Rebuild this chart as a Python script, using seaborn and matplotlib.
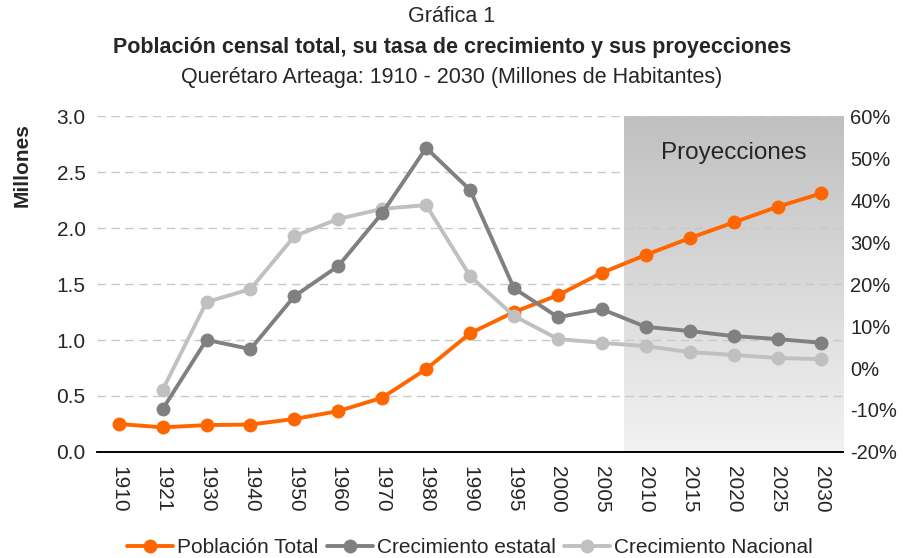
import numpy as np
import pandas as pd
import seaborn as sns
import matplotlib.pyplot as plt
from matplotlib.colors import LinearSegmentedColormap
from matplotlib.ticker import FuncFormatter

# datos
anios = ["1910", "1921", "1930", "1940", "1950", "1960", "1970", "1980", "1990",
         "1995", "2000", "2005", "2010", "2015", "2020", "2025", "2030"]
poblacion = [0.25, 0.22, 0.24, 0.245, 0.295, 0.365, 0.485, 0.74, 1.06,
             1.25, 1.40, 1.60, 1.76, 1.91, 2.05, 2.19, 2.31]
crec_estatal = [np.nan, -9.8, 6.7, 4.5, 17.1, 24.3, 36.9, 52.4, 42.4,
                19.0, 12.1, 14.0, 9.8, 8.8, 7.6, 6.9, 6.0]
crec_nacional = [np.nan, -5.2, 15.7, 18.8, 31.4, 35.5, 37.9, 38.8, 21.9,
                 12.4, 6.9, 6.0, 5.2, 3.8, 3.1, 2.4, 2.1]
inicio_proy = "2010"

sns.set_style("white")
plt.rcParams['font.family'] = ['Liberation Sans', 'DejaVu Sans']

df = pd.DataFrame({"x": np.arange(len(anios)), "pob": poblacion,
                   "est": crec_estatal, "nac": crec_nacional})

fig, ax = plt.subplots(figsize=(9.04, 5.58), dpi=100)
fig.subplots_adjust(left=0.107, right=0.933, top=0.792, bottom=0.19)
ax2 = ax.twinx()

n = len(anios)
x0 = anios.index(inicio_proy) - 0.5
# fondo degradado de proyecciones
grad = np.linspace(0, 1, 256).reshape(-1, 1)
ax.imshow(grad, extent=[x0, n - 0.5, 0, 3.0], origin="upper", aspect="auto",
          cmap=LinearSegmentedColormap.from_list("g", ["#c0c0c0", "#f2f2f2"]), zorder=0)
ax.text((x0 + n - 0.5) / 2, 2.67, "Proyecciones", ha="center", va="center", fontsize=17.5, zorder=1)

ax.set_ylim(0, 3.0)
ax2.set_ylim(-20, 60)
ax.set_xlim(-0.5, n - 0.5)
ax.set_yticks(np.arange(0, 3.01, 0.5))
ax2.set_yticks(np.arange(-20, 61, 10))
ax.yaxis.set_major_formatter(FuncFormatter(lambda v, p: f"{v:.1f}"))
ax2.yaxis.set_major_formatter(FuncFormatter(lambda v, p: f"{v:.0f}%"))

for y in np.arange(0.5, 3.01, 0.5):
    ax.axhline(y, color="#c8c8c8", lw=1, ls=(0, (6, 4)), zorder=0.5)

sns.lineplot(data=df, x="x", y="pob", ax=ax, color="#ff6600", lw=2.8, marker="o",
             markersize=10, markeredgewidth=0, label="Población Total", legend=False, zorder=3)
sns.lineplot(data=df.dropna(), x="x", y="est", ax=ax2, color="#808080", lw=2.8, marker="o",
             markersize=10, markeredgewidth=0, label="Crecimiento estatal", legend=False, zorder=3)
sns.lineplot(data=df.dropna(), x="x", y="nac", ax=ax2, color="#c0c0c0", lw=2.8, marker="o",
             markersize=10, markeredgewidth=0, label="Crecimiento Nacional", legend=False, zorder=2)

ax.set_xticks(np.arange(n))
ax.set_xticklabels(anios, rotation=270, fontsize=15)
ax.set_xticks(np.arange(-0.5, n), minor=True)
ax.tick_params(axis="x", which="major", length=0, pad=10)
ax.tick_params(axis="x", which="minor", length=6, color="black", width=1)
ax.tick_params(axis="y", labelsize=15, length=0, pad=8)
ax2.tick_params(axis="y", labelsize=14.5, length=0, pad=5)
ax.set_xlabel("")
ax.set_ylabel("")
ax2.set_ylabel("")

for a in (ax, ax2):
    for s in ["left", "right", "top"]:
        a.spines[s].set_visible(False)
    a.spines["bottom"].set_color("black")
    a.spines["bottom"].set_linewidth(1.2)

fig.text(0.025, 0.704, "Millones", rotation=90, ha="center", va="center",
         fontsize=15, fontweight="bold")
fig.text(0.5, 0.971, "Gráfica 1", ha="center", va="center", fontsize=15.5)
fig.text(0.5, 0.914, "Población censal total, su tasa de crecimiento y sus proyecciones",
         ha="center", va="center", fontsize=15.5, fontweight="bold")
fig.text(0.5, 0.862, "Querétaro Arteaga: 1910 - 2030 (Millones de Habitantes)",
         ha="center", va="center", fontsize=15.5)

h1, l1 = ax.get_legend_handles_labels()
h2, l2 = ax2.get_legend_handles_labels()
fig.legend(h1 + h2, l1 + l2, loc="lower center", bbox_to_anchor=(0.52, -0.032), ncol=3,
           frameon=False, fontsize=15, handlelength=2.2, handletextpad=0.2, columnspacing=0.4)

plt.savefig("out.png", dpi=100)
